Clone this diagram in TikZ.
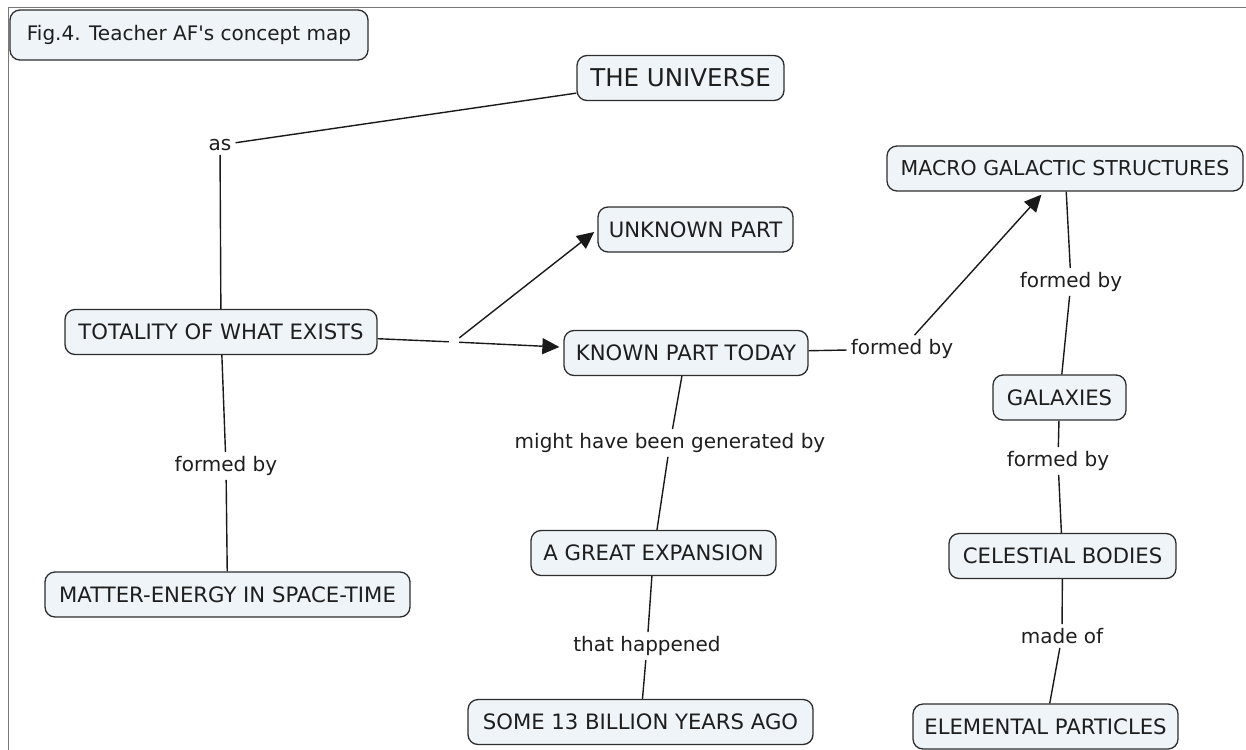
\documentclass[tikz,border=0pt]{standalone}
\usepackage{fontspec}
\setmainfont{DejaVu Sans}[Ligatures=TeXOff]
\usetikzlibrary{arrows.meta}
\definecolor{boxfill}{RGB}{239,244,248}
\definecolor{boxline}{RGB}{45,45,45}
\definecolor{frameline}{RGB}{120,120,120}
\definecolor{txt}{RGB}{30,30,30}
\begin{document}
\begin{tikzpicture}[x=1pt,y=-1pt,
  font=\fontsize{20}{24}\selectfont,
  concept/.style={draw=boxline, fill=boxfill, rounded corners=10pt, line width=1.3pt,
    minimum height=45pt, inner sep=0pt, text=txt, font=\fontsize{21.2}{25}\selectfont},
  link/.style={inner sep=4pt, text=txt},
  conn/.style={line width=1.4pt, draw=black!90},
  arr/.style={conn, -{Triangle[length=17pt,width=16pt]}, shorten >=4pt}]
\useasboundingbox (0,0) rectangle (1246,749);
\draw[frameline, line width=1.8pt] (8.5,760) -- (8.5,7.5) -- (1250,7.5);

% concepts
\node[concept, minimum width=358pt, minimum height=50pt, font=\fontsize{20}{24}\selectfont] (title) at (189,35) {Fig.4. Teacher AF's concept map};
\node[concept, minimum width=207pt, font=\fontsize{24.5}{28}\selectfont] (universe) at (680.5,78) {THE UNIVERSE};
\node[concept, minimum width=356pt, font=\fontsize{20.5}{24}\selectfont] (macro) at (1065,168.5) {MACRO GALACTIC STRUCTURES};
\node[concept, minimum width=195pt] (unknown) at (695.5,229.5) {UNKNOWN PART};
\node[concept, minimum width=312pt] (totality) at (221,332) {TOTALITY OF WHAT EXISTS};
\node[concept, minimum width=244pt] (known) at (686,353) {KNOWN PART TODAY};
\node[concept, minimum width=133pt] (galaxies) at (1059.5,397.5) {GALAXIES};
\node[concept, minimum width=245pt] (expansion) at (653.5,553) {A GREAT EXPANSION};
\node[concept, minimum width=227pt] (celestial) at (1062.5,556) {CELESTIAL BODIES};
\node[concept, minimum width=365pt] (matter) at (227.5,594.5) {MATTER-ENERGY IN SPACE-TIME};
\node[concept, minimum width=345pt] (some) at (640.5,722) {SOME 13 BILLION YEARS AGO};
\node[concept, minimum width=265pt] (elemental) at (1045.5,726.5) {ELEMENTAL PARTICLES};

% linking phrases
\node[link] (as) at (220,145) {as};
\node[link] (fb1) at (226,466) {formed by};
\node[link] (gen) at (670,443) {might have been generated by};
\node[link] (hap) at (647,646) {that happened};
\node[link] (fb2) at (902,349) {formed by};
\node[link] (fb3) at (1071,282) {formed by};
\node[link] (fb4) at (1058,461) {formed by};
\node[link] (made) at (1062,636) {made of};
\node[inner sep=5pt] (junc) at (454,342) {};

% connectors
\draw[conn] (universe) -- (as);
\draw[conn] (as) -- (totality);
\draw[conn] (totality) -- (junc);
\draw[arr] (junc) -- (unknown.west);
\draw[arr] (junc) -- (known);
\draw[conn] (totality) -- (fb1);
\draw[conn] (fb1) -- (matter);
\draw[conn] (known) -- (gen);
\draw[conn] (gen) -- (expansion);
\draw[conn] (expansion) -- (hap);
\draw[conn] (hap) -- (some);
\draw[conn] (known) -- (fb2);
\draw[arr] (fb2) -- (macro);
\draw[conn] (macro) -- (fb3);
\draw[conn] (fb3) -- (galaxies);
\draw[conn] (galaxies) -- (fb4);
\draw[conn] (fb4) -- (celestial);
\draw[conn] (celestial) -- (made);
\draw[conn] (made) -- (elemental);
\end{tikzpicture}
\end{document}
